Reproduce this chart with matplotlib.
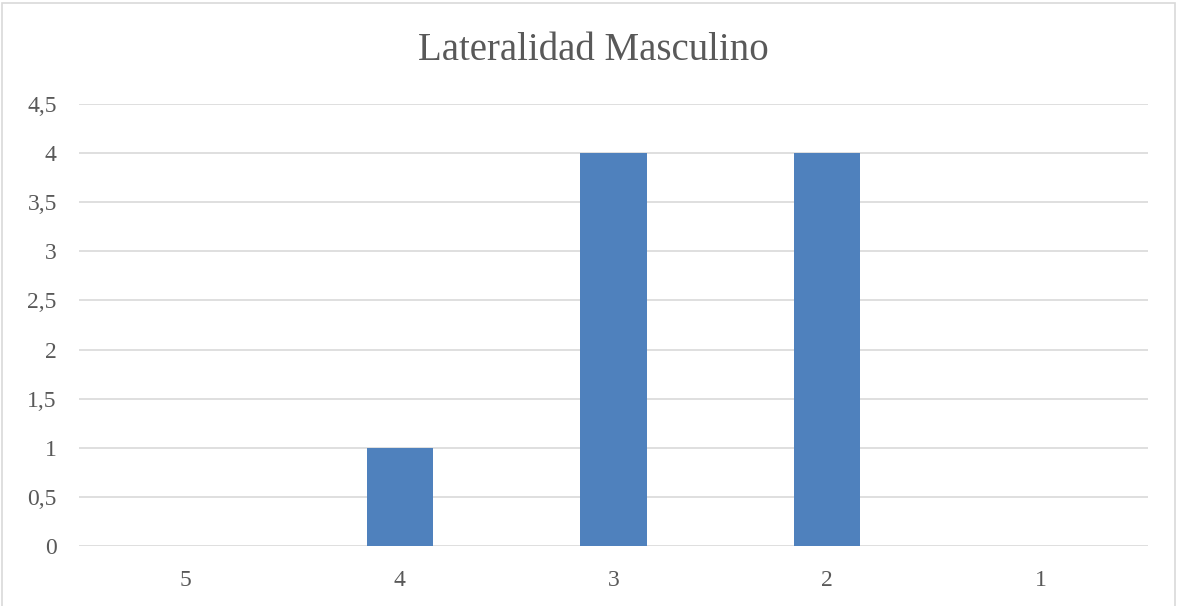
import numpy as np
import matplotlib.pyplot as plt
from matplotlib.patches import Rectangle

# Datos
categorias = ['5', '4', '3', '2', '1']
valores = [0, 1, 4, 4, 0]
ticks_y = [0, 0.5, 1, 1.5, 2, 2.5, 3, 3.5, 4, 4.5]
etiquetas_y = ['0', '0,5', '1', '1,5', '2', '2,5', '3', '3,5', '4', '4,5']

plt.rcParams['font.family'] = ['Liberation Serif', 'DejaVu Serif']
gris = '#595959'

fig = plt.figure(figsize=(11.82, 6.06), dpi=100)
ax = fig.add_axes([79 / 1182, 1 - 546 / 606, 1069 / 1182, 442 / 606])

x = np.arange(len(categorias))
ax.bar(x, valores, width=0.31, color='#4F81BD', zorder=3)

ax.set_xlim(-0.5, len(categorias) - 0.5)
ax.set_ylim(0, 4.5)
ax.set_xticks(x)
ax.set_xticklabels(categorias)
ax.set_yticks(ticks_y)
ax.set_yticklabels(etiquetas_y)
ax.tick_params(axis='both', length=0, labelsize=17, colors=gris)
ax.tick_params(axis='y', pad=16)
ax.tick_params(axis='x', pad=17)
ax.grid(axis='y', color='#D9D9D9', linewidth=1.2, zorder=0)
for s in ax.spines.values():
    s.set_visible(False)

fig.text(593 / 1182, 1 - 50 / 606, 'Lateralidad Masculino', ha='center', va='center',
         fontsize=28, color=gris)

# Borde del gráfico
fig.patches.append(Rectangle((2 / 1182, -0.05), 1173 / 1182, 1.05 - 3 / 606,
                             transform=fig.transFigure, fill=False,
                             edgecolor='#D9D9D9', linewidth=1.2))

plt.savefig('out.png', dpi=100)
